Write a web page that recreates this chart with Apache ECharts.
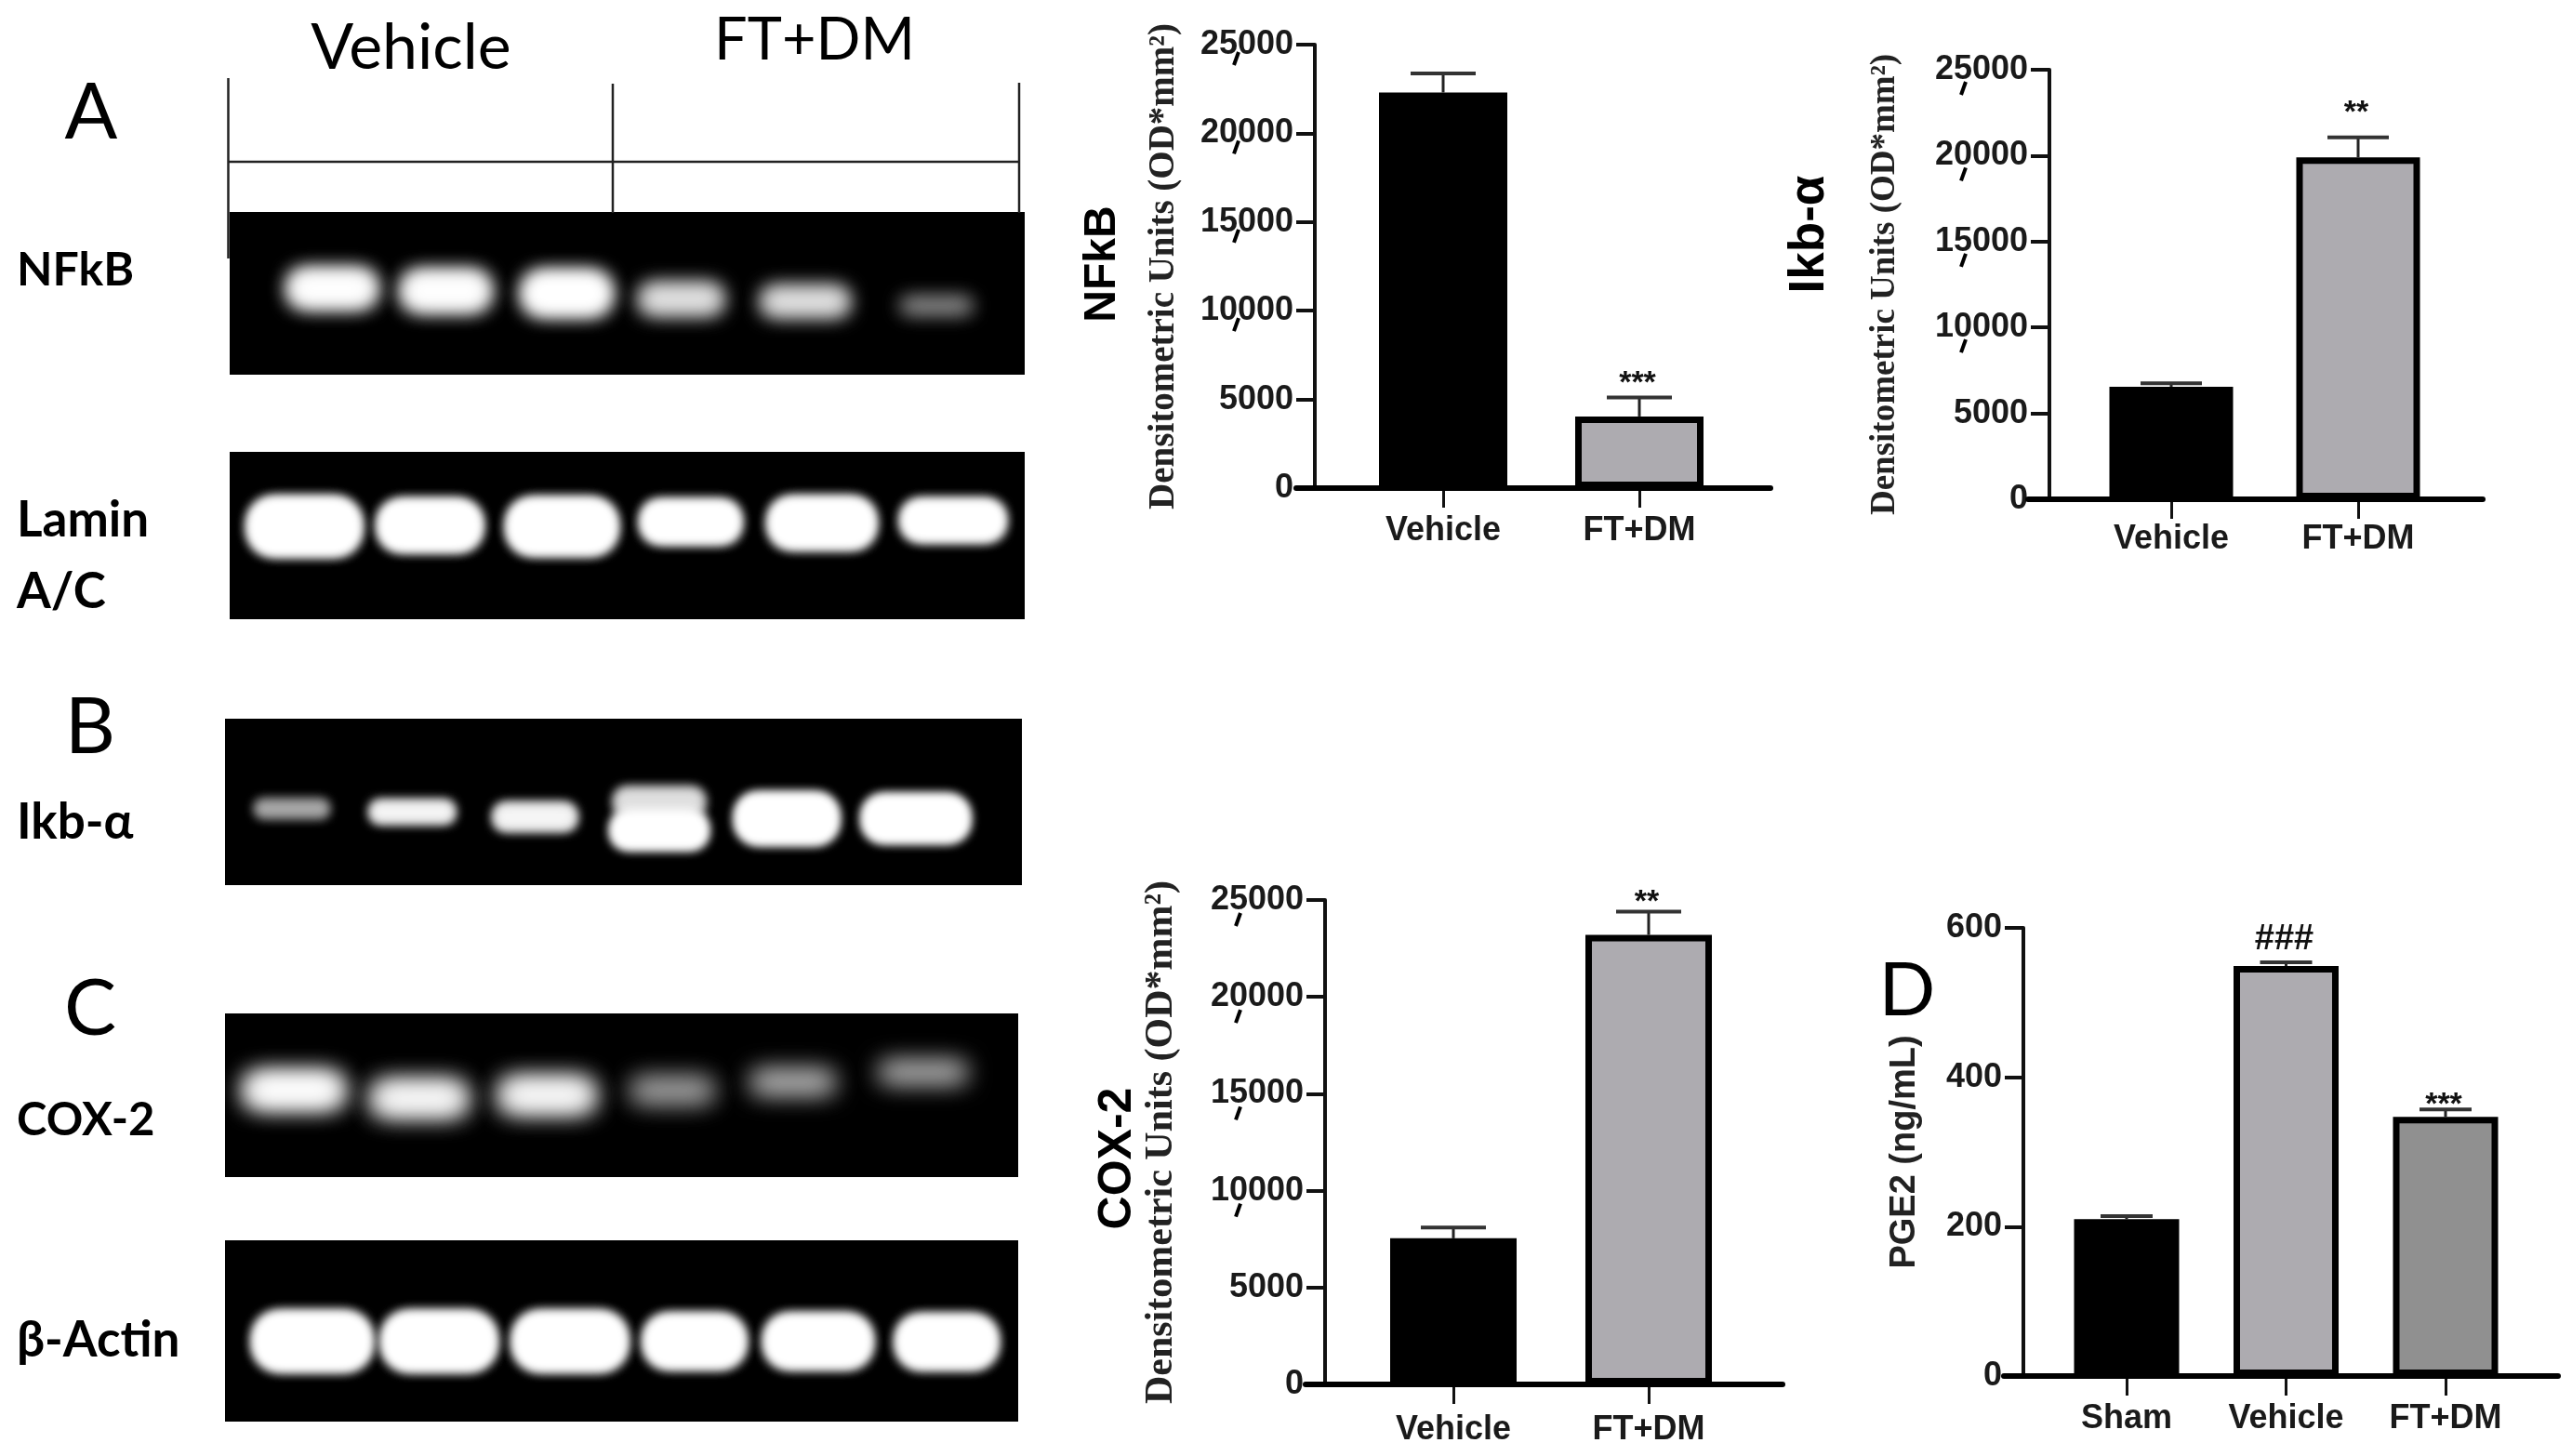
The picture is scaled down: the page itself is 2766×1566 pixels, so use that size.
<!DOCTYPE html>
<html><head><meta charset="utf-8">
<style>html,body{margin:0;padding:0;background:#fff}#c{width:2766px;height:1566px}</style>
<script src="https://cdn.jsdelivr.net/npm/echarts@6/dist/echarts.min.js"></script>
</head><body><div id="c"></div>
<script>
// ---- chart values ----
const twoGroups = ['Vehicle', 'FT+DM'];
const threeGroups = ['Sham', 'Vehicle', 'FT+DM'];
const nfkbValues = [22300, 4040];
const nfkbErrors = [1070, 1070];
const ikbValues = [6550, 19900];
const ikbErrors = [200, 1160];
const coxValues = [7540, 23200];
const coxErrors = [560, 1200];
const pgeValues = [210, 549, 347];
const pgeErrors = [4, 5, 10];
const densTicksWithComma = [25000, 20000, 15000, 10000];
const nfkbSig = [[1, 6300, '***']];
const ikbSig = [[1, 22900, '**']];
const coxSig = [[1, 25280, '**']];
const pgeSig = [[1, 585, '###'], [2, 373, '***']];
// gel bands: [lane centre %, height centre %, width %, height %, intensity]
const nfkbBands = [[12.9,47,11,23,.95],[27.2,48.5,11,24,.95],[42.4,50,11,26,1],[56.8,53.5,10.5,19,.68],[72.4,55,11,18,.68],[88.9,57.5,9,10,.38]];
const laminBands = [[9.4,44.6,13.9,33,1],[25.2,44,12.7,29,1],[41.8,44.6,13.5,32,1],[58,41.8,12.2,24,1],[74.5,42.5,13.1,29,1],[91,41,12.7,23,1]];
const ikbBands = [[8.4,54,9.5,12,.42],[23.5,56,10.7,14,.8],[38.9,59,10.5,17,.8],[54.5,50,11.5,18,.65],[54.5,67,12.2,23,1],[70.5,60,13,31,1],[86.7,60,13.5,29,1]];
const coxBands = [[8.7,47,12.3,20,1],[24.5,52,11.8,20,.9],[40.6,50,11.8,20,.9],[56.4,47,10.5,16,.42],[71.6,42,10.5,14,.5],[88,36,11,12.5,.5]];
const actinBands = [[11,55.7,14.6,31,1],[27,55.7,14,31,1],[43.5,55.7,14,31,1],[59.2,55.7,12.4,28,1],[74.8,55.7,13.2,28,1],[91,56,12.4,28,1]];

// ---- layout ----
const barPanels = [
 {cats:twoGroups, vals:nfkbValues, errs:nfkbErrors, sig:nfkbSig, fills:['#000','#ADABB0'], axisX:1414, top:48, zero:525, first:1552, step:211, barW:138, lineL:1394, lineR:1904, max:25000, interval:5000, name:'Densitometric Units (OD*mm²)', nameSize:39, nameFam:'Liberation Serif', nameGap:143, commaDx:-85, commaDy:15, capW:70, labelMargin:28},
 {cats:twoGroups, vals:ikbValues, errs:ikbErrors, sig:ikbSig, fills:['#000','#ADABB0'], axisX:2204, top:75, zero:537, first:2335, step:201, barW:133, lineL:2181, lineR:2670, max:25000, interval:5000, name:'Densitometric Units (OD*mm²)', nameSize:37, nameFam:'Liberation Serif', nameGap:158, commaDx:-93, commaDy:20, capW:66, labelMargin:25},
 {cats:twoGroups, vals:coxValues, errs:coxErrors, sig:coxSig, fills:['#000','#ADABB0'], axisX:1425, top:968, zero:1489, first:1563, step:210, barW:136, lineL:1404, lineR:1917, max:25000, interval:5000, name:'Densitometric Units (OD*mm²)', nameSize:42, nameFam:'Liberation Serif', nameGap:155, commaDx:-94, commaDy:21, capW:70, labelMargin:31},
 {cats:threeGroups, vals:pgeValues, errs:pgeErrors, sig:pgeSig, fills:['#000','#ADABB0','#909090'], axisX:2176, top:998, zero:1480, first:2287, step:171.5, barW:113, lineL:2155, lineR:2751, max:600, interval:200, name:'PGE2 (ng/mL)', nameSize:38, nameFam:'Liberation Sans', nameGap:108, commaDx:0, commaDy:0, capW:56, labelMargin:28, noComma:true}
];
const gels = [
 {bands:nfkbBands, x:247, y:228, w:855, h:175, blur:20, passes:2},
 {bands:laminBands, x:247, y:486, w:855, h:180, blur:13, passes:3},
 {bands:ikbBands, x:242, y:773, w:857, h:179, blur:11, passes:2},
 {bands:coxBands, x:242, y:1090, w:853, h:176, blur:26, passes:2},
 {bands:actinBands, x:242, y:1334, w:853, h:195, blur:13, passes:3}
];
const grid=[],xAxis=[],yAxis=[],series=[];
const tickFont={fontFamily:'"Liberation Sans"',fontWeight:'bold',color:'#1a1a1a'};

barPanels.forEach(p=>{
  const idx=grid.length;
  const left=p.first-p.step/2, width=p.step*p.cats.length;
  grid.push({left,top:p.top,width,height:p.zero-p.top});
  xAxis.push({gridIndex:idx,type:'category',data:p.cats,
    axisLine:{show:false},axisTick:{show:true,alignWithLabel:true,length:21,lineStyle:{color:'#111',width:3}},
    axisLabel:{...tickFont,fontSize:36,margin:p.labelMargin,interval:0}});
  yAxis.push({gridIndex:idx,type:'value',min:0,max:p.max,interval:p.interval,offset:left-p.axisX,
    splitLine:{show:false},
    axisLine:{show:true,onZero:false,lineStyle:{color:'#111',width:4}},
    axisTick:{show:true,length:20,lineStyle:{color:'#111',width:4}},
    axisLabel:{...tickFont,fontSize:36,margin:23,padding:[8,0,0,0],formatter:v=>String(v)},
    name:p.name,nameLocation:'middle',nameGap:p.nameGap,nameRotate:90,
    nameTextStyle:{fontFamily:p.nameFam,fontWeight:'bold',fontSize:p.nameSize,color:'#222'}});
  series.push({type:'bar',xAxisIndex:idx,yAxisIndex:idx,barWidth:p.barW,z:3,
    data:p.vals.map((v,i)=>({value:v,itemStyle:{color:p.fills[i],borderColor:'#000',borderWidth:7}}))});
  series.push({type:'custom',xAxisIndex:idx,yAxisIndex:idx,z:4,clip:false,
    data:p.vals.map((v,i)=>[i,v,v+p.errs[i]]),
    encode:{x:0,y:[1,2]},
    renderItem(par,api){
      const a=api.coord([api.value(0),api.value(1)]),b=api.coord([api.value(0),api.value(2)]);
      return {type:'group',children:[
        {type:'line',shape:{x1:a[0],y1:a[1],x2:b[0],y2:b[1]},style:{stroke:'#222',lineWidth:3}},
        {type:'line',shape:{x1:b[0]-p.capW/2,y1:b[1],x2:b[0]+p.capW/2,y2:b[1]},style:{stroke:'#333',lineWidth:4}}
      ]};
    }});
  series.push({type:'custom',xAxisIndex:idx,yAxisIndex:idx,z:5,clip:false,
    data:p.sig,
    renderItem(par,api){
      const i=par.dataIndex,c=api.coord([p.sig[i][0],p.sig[i][1]]),t=p.sig[i][2],hash=t[0]==='#';
      return {type:'text',style:{text:t,x:c[0]-2,y:c[1]+(hash?0:8),textAlign:'center',textVerticalAlign:'middle',
        fill:'#111',font:(hash?'bold 38px':'bold 34px')+' "Liberation Sans"'}};
    }});
  if(!p.noComma) series.push({type:'custom',xAxisIndex:idx,yAxisIndex:idx,z:5,clip:false,
    data:densTicksWithComma.map(v=>[0,v]),
    encode:{x:0,y:1},
    renderItem(par,api){
      const c=api.coord([0,api.value(1)]),x=p.axisX+p.commaDx,y=c[1]+p.commaDy;
      return {type:'line',shape:{x1:x+3,y1:y-7,x2:x-2,y2:y+7},style:{stroke:'#000',lineWidth:4}};
    }});
  // x axis baseline, longer than the category band
  const li=grid.length;
  grid.push({left:p.lineL,top:p.zero-1,width:p.lineR-p.lineL,height:1});
  xAxis.push({gridIndex:li,type:'value',min:0,max:1,axisTick:{show:false},axisLabel:{show:false},splitLine:{show:false},
    axisLine:{show:true,onZero:false,lineStyle:{color:'#000',width:6}},z:6});
  yAxis.push({gridIndex:li,type:'value',show:false});
});

gels.forEach(g=>{
  const idx=grid.length;
  grid.push({left:g.x,top:g.y,width:g.w,height:g.h,show:true,backgroundColor:'#000',borderWidth:0});
  xAxis.push({gridIndex:idx,type:'value',min:0,max:100,show:false});
  yAxis.push({gridIndex:idx,type:'value',min:0,max:100,inverse:true,show:false});
  const away=4000; // the rect itself sits outside the clip; only its blurred shadow lands on the gel
  series.push({type:'custom',xAxisIndex:idx,yAxisIndex:idx,z:3,clip:true,
    data:g.bands,
    encode:{x:0,y:1},
    renderItem(par,api){
      const c=api.coord([api.value(0),api.value(1)]),s=api.size([api.value(2),api.value(3)]),op=api.value(4);
      const col='rgba(255,255,255,'+op+')';
      const kids=[];
      for(let k=0;k<g.passes;k++) kids.push({type:'rect',
        shape:{x:c[0]-s[0]/2-away,y:c[1]-s[1]/2,width:s[0],height:s[1],r:Math.min(s[0],s[1])*0.45},
        style:{fill:'#fff',shadowBlur:g.blur,shadowColor:col,shadowOffsetX:away}});
      return {type:'group',children:kids};
    }});
});

const txt=(text,x,y,font,rot,align)=>({type:'text',x,y,rotation:rot||0,z:20,
  style:{text,font,fill:'#000',textAlign:align||'center',textVerticalAlign:'middle'}});
const hLine=(x1,y1,x2,y2)=>({type:'line',z:20,shape:{x1,y1,x2,y2},style:{stroke:'#222',lineWidth:2.5}});
const R=Math.PI/2;
const labelFont='bold 53px Lato';
const graphic=[
 txt('A',98,122,'84px Lato'),txt('B',97,783,'84px Lato'),txt('C',97,1086,'84px Lato'),txt('D',2051,1066,'80px Lato'),
 txt('Vehicle',442,52,'68px Lato'),txt('FT+DM',876,44,'63px Lato'),
 txt('NFkB',18,291,'bold 50px Lato',0,'left'),txt('Lamin',18,560,labelFont,0,'left'),txt('A/C',18,637,labelFont,0,'left'),
 txt('Ikb-α',18,885,labelFont,0,'left'),txt('COX-2',18,1205,'bold 49px Lato',0,'left'),txt('β-Actin',18,1442,labelFont,0,'left'),
 txt('NFkB',1186,284,'bold 48px "Liberation Sans"',R),txt('Ikb-α',1946,252,'bold 53px "Liberation Sans"',R),
 txt('COX-2',1202,1246,'bold 50px "Liberation Sans"',R),
 hLine(245.5,84,245.5,278),hLine(659,90,659,229),hLine(1096,89,1096,229),hLine(246,174,1097,174)
];
const chart=echarts.init(document.getElementById('c'),null,{width:2766,height:1566,renderer:'canvas'});
chart.setOption({animation:false,backgroundColor:'#fff',grid,xAxis,yAxis,series,graphic});
</script></body></html>
